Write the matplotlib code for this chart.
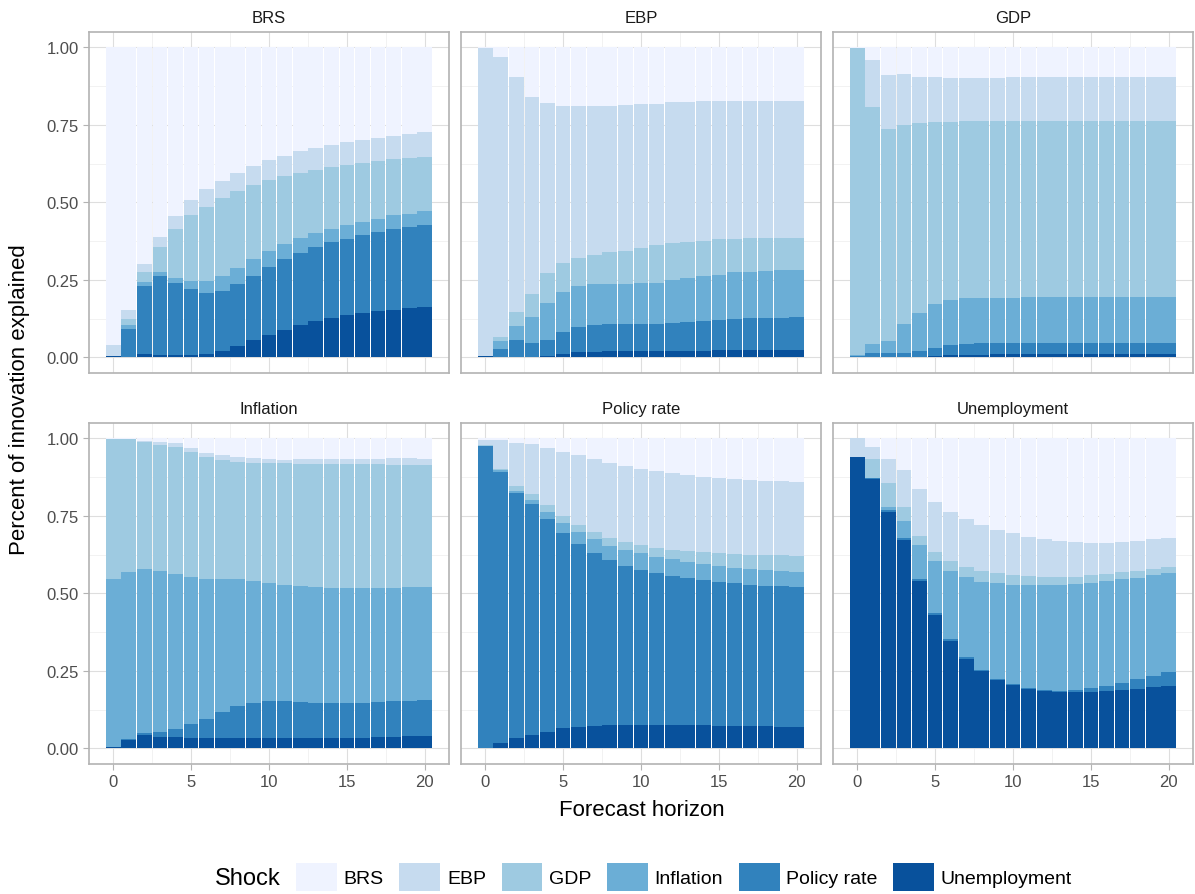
import numpy as np
import matplotlib
matplotlib.use("Agg")
from matplotlib import pyplot as plt
from matplotlib.patches import Patch

plt.rcParams['font.family'] = ['Liberation Sans', 'DejaVu Sans']

horizon = list(range(21))
shocks = ["BRS", "EBP", "GDP", "Inflation", "Policy rate", "Unemployment"]
colors = ["#EFF3FF", "#C6DBEF", "#9ECAE1", "#6BAED6", "#3182BD", "#08519C"]
panels = ["BRS", "EBP", "GDP", "Inflation", "Policy rate", "Unemployment"]

# cumulative top edge of each stacked layer (stack from the bottom: Unemployment,
# Policy rate, Inflation, GDP, EBP; BRS fills up to 1)
brs_levels = {
    "Unemployment": [0.003, 0.002, 0.011, 0.008, 0.008, 0.008, 0.011, 0.020, 0.037, 0.056, 0.072,
                     0.089, 0.104, 0.117, 0.127, 0.137, 0.143, 0.149, 0.153, 0.159, 0.162],
    "Policy rate": [0.003, 0.091, 0.230, 0.262, 0.240, 0.220, 0.208, 0.215, 0.237, 0.262, 0.291,
                    0.317, 0.337, 0.356, 0.372, 0.382, 0.395, 0.405, 0.414, 0.420, 0.427],
    "Inflation": [0.003, 0.104, 0.243, 0.275, 0.256, 0.246, 0.246, 0.262, 0.289, 0.317, 0.343,
                  0.367, 0.386, 0.401, 0.415, 0.427, 0.437, 0.446, 0.459, 0.462, 0.472],
    "GDP": [0.004, 0.124, 0.275, 0.356, 0.414, 0.459, 0.485, 0.514, 0.537, 0.556, 0.572,
            0.585, 0.595, 0.604, 0.614, 0.620, 0.627, 0.633, 0.640, 0.644, 0.646],
    "EBP": [0.040, 0.153, 0.301, 0.388, 0.456, 0.508, 0.543, 0.569, 0.595, 0.617, 0.637,
            0.649, 0.667, 0.675, 0.685, 0.695, 0.701, 0.708, 0.714, 0.720, 0.727],
}
ebp_levels = {
    "Unemployment": [0.003, 0.002, 0.002, 0.002, 0.004, 0.011, 0.017, 0.017, 0.020, 0.020, 0.020,
                     0.020, 0.020, 0.020, 0.020, 0.024, 0.024, 0.024, 0.024, 0.024, 0.024],
    "Policy rate": [0.003, 0.027, 0.056, 0.046, 0.056, 0.082, 0.098, 0.104, 0.108, 0.108, 0.108,
                    0.108, 0.111, 0.114, 0.117, 0.120, 0.124, 0.127, 0.127, 0.127, 0.130],
    "Inflation": [0.003, 0.053, 0.101, 0.130, 0.175, 0.211, 0.230, 0.237, 0.237, 0.237, 0.240,
                  0.240, 0.249, 0.256, 0.263, 0.266, 0.275, 0.275, 0.278, 0.282, 0.282],
    "GDP": [0.003, 0.066, 0.146, 0.204, 0.272, 0.304, 0.320, 0.330, 0.340, 0.344, 0.351,
            0.362, 0.369, 0.372, 0.375, 0.382, 0.382, 0.385, 0.385, 0.385, 0.385],
    "EBP": [0.998, 0.969, 0.904, 0.840, 0.820, 0.811, 0.811, 0.811, 0.811, 0.814, 0.817,
            0.817, 0.824, 0.824, 0.827, 0.827, 0.827, 0.827, 0.827, 0.827, 0.827],
}
gdp_levels = {
    "Unemployment": [0.002, 0.002, 0.002, 0.002, 0.002, 0.004, 0.008, 0.008, 0.008, 0.011, 0.011,
                     0.011, 0.011, 0.011, 0.011, 0.011, 0.011, 0.011, 0.011, 0.011, 0.011],
    "Policy rate": [0.004, 0.014, 0.014, 0.014, 0.020, 0.030, 0.040, 0.043, 0.046, 0.046, 0.046,
                    0.046, 0.046, 0.046, 0.046, 0.046, 0.046, 0.046, 0.046, 0.046, 0.046],
    "Inflation": [0.008, 0.043, 0.053, 0.108, 0.143, 0.172, 0.185, 0.191, 0.191, 0.191, 0.191,
                  0.195, 0.195, 0.195, 0.195, 0.195, 0.195, 0.195, 0.195, 0.195, 0.195],
    "GDP": [0.998, 0.808, 0.737, 0.749, 0.756, 0.759, 0.759, 0.762, 0.762, 0.762, 0.762,
            0.762, 0.762, 0.762, 0.762, 0.762, 0.762, 0.762, 0.762, 0.762, 0.762],
    "EBP": [0.999, 0.959, 0.911, 0.914, 0.904, 0.904, 0.901, 0.901, 0.901, 0.901, 0.904,
            0.904, 0.904, 0.904, 0.904, 0.904, 0.904, 0.904, 0.904, 0.904, 0.904],
}
inflation_levels = {
    "Unemployment": [0.003, 0.027, 0.043, 0.037, 0.037, 0.033, 0.033, 0.033, 0.033, 0.033, 0.033,
                     0.033, 0.033, 0.033, 0.033, 0.033, 0.033, 0.037, 0.037, 0.040, 0.040],
    "Policy rate": [0.005, 0.030, 0.049, 0.053, 0.062, 0.078, 0.095, 0.117, 0.137, 0.146, 0.153,
                    0.153, 0.149, 0.146, 0.146, 0.146, 0.146, 0.149, 0.153, 0.153, 0.156],
    "Inflation": [0.546, 0.569, 0.578, 0.572, 0.562, 0.553, 0.546, 0.546, 0.546, 0.540, 0.533,
                  0.527, 0.524, 0.520, 0.517, 0.517, 0.517, 0.517, 0.517, 0.520, 0.520],
    "GDP": [0.998, 0.998, 0.988, 0.978, 0.972, 0.956, 0.940, 0.930, 0.924, 0.920, 0.920,
            0.920, 0.917, 0.917, 0.917, 0.917, 0.917, 0.917, 0.914, 0.914, 0.914],
    "EBP": [0.999, 0.999, 0.991, 0.988, 0.985, 0.969, 0.953, 0.946, 0.940, 0.937, 0.933,
            0.930, 0.933, 0.933, 0.933, 0.933, 0.933, 0.933, 0.936, 0.936, 0.933],
}
policy_levels = {
    "Unemployment": [0.001, 0.017, 0.033, 0.043, 0.053, 0.066, 0.069, 0.072, 0.075, 0.075, 0.075,
                     0.075, 0.075, 0.075, 0.075, 0.072, 0.072, 0.072, 0.072, 0.069, 0.069],
    "Policy rate": [0.975, 0.891, 0.824, 0.788, 0.740, 0.695, 0.659, 0.630, 0.608, 0.588, 0.575,
                    0.566, 0.556, 0.549, 0.543, 0.537, 0.533, 0.527, 0.524, 0.524, 0.520],
    "Inflation": [0.976, 0.898, 0.830, 0.801, 0.762, 0.727, 0.698, 0.675, 0.653, 0.640, 0.630,
                  0.617, 0.611, 0.601, 0.595, 0.588, 0.582, 0.578, 0.575, 0.572, 0.569],
    "GDP": [0.977, 0.901, 0.846, 0.820, 0.785, 0.749, 0.720, 0.698, 0.678, 0.666, 0.656,
            0.646, 0.640, 0.637, 0.633, 0.630, 0.627, 0.624, 0.624, 0.624, 0.620],
    "EBP": [0.995, 0.995, 0.985, 0.982, 0.969, 0.956, 0.946, 0.933, 0.920, 0.911, 0.901,
            0.895, 0.888, 0.882, 0.875, 0.872, 0.869, 0.866, 0.862, 0.862, 0.859],
}
unemp_levels = {
    "Unemployment": [0.940, 0.869, 0.762, 0.672, 0.540, 0.430, 0.346, 0.288, 0.249, 0.220, 0.204,
                     0.191, 0.185, 0.182, 0.182, 0.182, 0.185, 0.188, 0.191, 0.198, 0.201],
    "Policy rate": [0.940, 0.872, 0.769, 0.678, 0.546, 0.437, 0.353, 0.295, 0.254, 0.224, 0.207,
                    0.195, 0.188, 0.185, 0.188, 0.195, 0.201, 0.211, 0.224, 0.233, 0.246],
    "Inflation": [0.940, 0.872, 0.778, 0.733, 0.656, 0.604, 0.572, 0.553, 0.537, 0.533, 0.527,
                  0.527, 0.527, 0.527, 0.530, 0.533, 0.540, 0.546, 0.549, 0.559, 0.566],
    "GDP": [0.940, 0.933, 0.856, 0.778, 0.685, 0.633, 0.604, 0.585, 0.572, 0.566, 0.559,
            0.556, 0.553, 0.553, 0.553, 0.559, 0.562, 0.569, 0.572, 0.578, 0.585],
    "EBP": [1.000, 0.972, 0.933, 0.898, 0.837, 0.795, 0.762, 0.740, 0.720, 0.704, 0.695,
            0.682, 0.675, 0.669, 0.666, 0.662, 0.662, 0.666, 0.669, 0.675, 0.678],
}
all_levels = [brs_levels, ebp_levels, gdp_levels, inflation_levels, policy_levels, unemp_levels]

W, H = 1195, 895
fig = plt.figure(figsize=(W / 100, H / 100), dpi=100)

stack_order = ["Unemployment", "Policy rate", "Inflation", "GDP", "EBP"]

for i, (name, levels) in enumerate(zip(panels, all_levels)):
    row, col = divmod(i, 3)
    left = 89 + 372 * col
    top = 32.8 + 391 * row
    ax = fig.add_axes([left / W, 1 - (top + 341) / H, 360 / W, 341 / H])
    ax.set_xlim(-1.55, 21.55)
    ax.set_ylim(-0.05, 1.05)
    ax.set_axisbelow(True)
    ax.set_xticks([0, 5, 10, 15, 20])
    ax.set_xticks([2.5, 7.5, 12.5, 17.5], minor=True)
    ax.set_yticks([0, 0.25, 0.5, 0.75, 1.0])
    ax.set_yticks([0.125, 0.375, 0.625, 0.875], minor=True)
    ax.grid(which="major", color="#DEDEDE", lw=0.8)
    ax.grid(which="minor", color="#EDEDED", lw=0.5)
    for sp in ax.spines.values():
        sp.set_color("#B3B3B3")
        sp.set_linewidth(1.2)

    bottom = np.zeros(len(horizon))
    for shock in stack_order:
        topv = np.array(levels[shock])
        ax.bar(horizon, topv - bottom, bottom=bottom, width=0.95,
               color=colors[shocks.index(shock)], linewidth=0)
        bottom = topv
    ax.bar(horizon, 1 - bottom, bottom=bottom, width=0.95, color=colors[0], linewidth=0)

    ax.set_title(name, fontsize=12, color="#1A1A1A", pad=7)
    ax.tick_params(which="both", length=0)
    ax.tick_params(which="major", colors="#B3B3B3", length=4, width=0.8,
                   labelcolor="#4D4D4D", labelsize=12)
    if col == 0:
        ax.set_yticklabels(["0.00", "0.25", "0.50", "0.75", "1.00"])
    else:
        ax.tick_params(axis="y", which="major", length=0, labelleft=False)
    if row == 0:
        ax.tick_params(axis="x", which="major", length=0, labelbottom=False)

fig.text(20 / W, 1 - 400 / H, "Percent of innovation explained", rotation=90,
         ha="center", va="center", fontsize=16)
fig.text(642 / W, 1 - 810 / H, "Forecast horizon", ha="center", va="center", fontsize=16)

handles = [Patch(facecolor=c, edgecolor="none") for c in colors]
fig.text(248 / W, 1 - 879 / H, "Shock", ha="center", va="center", fontsize=17)
fig.legend(handles, shocks, loc="center left", bbox_to_anchor=(296 / W, 1 - 878 / H),
           ncol=6, frameon=False, fontsize=14, handlelength=2.1, handleheight=1.8,
           handletextpad=0.35, columnspacing=0.8, borderaxespad=0, borderpad=0)

fig.savefig("out.png", dpi=100)
